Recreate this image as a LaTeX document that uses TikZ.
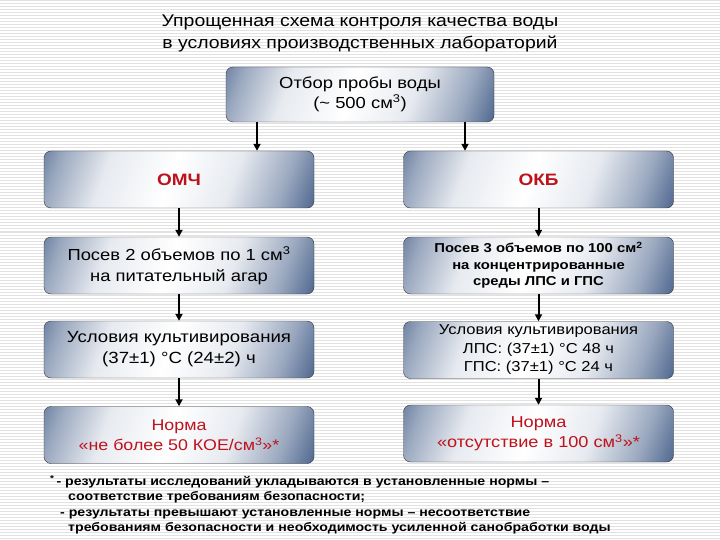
\documentclass[tikz,border=0pt]{standalone}
\usepackage{fontspec}
\setmainfont[FakeStretch=1.15]{Liberation Sans}
\usetikzlibrary{arrows.meta}
\definecolor{boxblue}{RGB}{52,80,126}
\definecolor{normred}{RGB}{190,18,28}
\definecolor{stripegray}{RGB}{226,226,226}
\pgfdeclarehorizontalshading{boxshade}{100bp}{%
  color(0bp)=(boxblue); color(12bp)=(boxblue); color(22bp)=(boxblue!50!white);
  color(33bp)=(boxblue!12!white); color(48bp)=(white); color(62bp)=(boxblue!12!white);
  color(74bp)=(boxblue!50!white); color(85bp)=(boxblue); color(100bp)=(boxblue)}

\begin{document}
\begin{tikzpicture}[x=1pt, y=-1pt]

% styles
\tikzstyle{stripe}=[stripegray, line width=1pt]
\tikzstyle{boxw}=[rectangle, rounded corners=7pt, draw=black!80, thin,
  shading=boxshade, shading angle=-20,
  minimum width=270pt, minimum height=57pt, align=center, inner sep=2pt]
\tikzstyle{textLine}=[text=black, font=\fontsize{16}{21}\selectfont]
\tikzstyle{textSmall}=[text=black, font=\fontsize{12.9}{16.5}\selectfont\bfseries]
\tikzstyle{textRed}=[text=normred, font=\fontsize{16.5}{20}\selectfont\bfseries]
\tikzstyle{vector}=[-{Triangle[width=7pt,length=7pt]}, line width=2pt]

\useasboundingbox (0,0) rectangle (720,540);
\fill[white] (0,0) rectangle (720,540);
\foreach \y in {1,4,...,540} \draw[stripe] (0,\y) -- (720,\y);

% title
\node[textLine, align=center, font=\fontsize{16.9}{22}\selectfont] (title) at (360,33)
  {Упрощенная схема контроля качества воды\\в условиях производственных лабораторий};

% top box
\node[boxw, minimum width=268pt, minimum height=55pt, textLine, font=\fontsize{16}{20}\selectfont] (sample) at (360,94.5)
  {Отбор пробы воды\\(\textasciitilde{} 500 см\textsuperscript{3})};

% left column
\node[boxw, textRed] (omch) at (179,179.5) {ОМЧ};
\node[boxw, textLine] (posevA) at (179,265.5)
  {Посев 2 объемов по 1 см\textsuperscript{3}\\на питательный агар};
\node[boxw, textLine, font=\fontsize{16.2}{21}\selectfont] (condA) at (179,349.5)
  {Условия культивирования\\(37±1) °С (24±2) ч};
\node[boxw, textRed, font=\fontsize{15.5}{20}\selectfont] (normA) at (179,435)
  {Норма\\«не более 50 КОЕ/см\textsuperscript{3}»*};

% right column
\node[boxw, textRed] (okb) at (538.5,179.5) {ОКБ};
\node[boxw, textSmall] (posevB) at (538.5,265.5)
  {Посев 3 объемов по 100 см\textsuperscript{2}\\на концентрированные\\среды ЛПС и ГПС};
\node[boxw, textLine, font=\fontsize{14.4}{18.5}\selectfont] (condB) at (538.5,350)
  {Условия культивирования\\ЛПС: (37±1) °С 48 ч\\ГПС: (37±1) °С 24 ч};
\node[boxw, textRed, font=\fontsize{15.8}{20}\selectfont] (normB) at (538.5,433.5)
  {Норма\\«отсутствие в 100 см\textsuperscript{3}»*};

% arrows
\draw[vector] ([xshift=-103pt]sample.south) -- ([xshift=-103pt]sample.south |- omch.north);
\draw[vector] ([xshift=105pt]sample.south) -- ([xshift=105pt]sample.south |- okb.north);
\draw[vector] (omch) -- (posevA);
\draw[vector] (posevA) -- (condA);
\draw[vector] (condA) -- (normA);
\draw[vector] (okb) -- (posevB);
\draw[vector] (posevB) -- (condB);
\draw[vector] (condB) -- (normB);

% footnote
\node[anchor=north west, align=left, inner sep=0pt,
  font=\fontsize{12.3}{15.4}\selectfont\bfseries] (note) at (50,475)
  {\textsuperscript{*}\,- результаты исследований укладываются в установленные нормы –\\
   \hspace*{18pt}соответствие требованиям безопасности;\\
   \hspace*{10pt}- результаты превышают установленные нормы – несоответствие\\
   \hspace*{18pt}требованиям безопасности и необходимость усиленной санобработки воды};

\end{tikzpicture}
\end{document}
